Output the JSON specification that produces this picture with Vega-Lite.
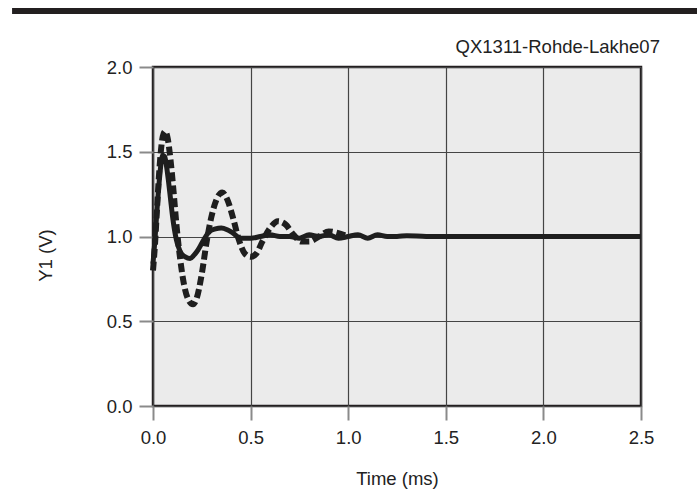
{
  "$schema": "https://vega.github.io/schema/vega-lite/v6.json",
  "width": 488,
  "height": 339,
  "autosize": {"type": "none"},
  "padding": {"left": 153, "top": 67, "right": 56, "bottom": 85},
  "background": "white",
  "config": {
    "font": "Liberation Sans",
    "view": {"fill": "#ebebeb", "stroke": "#231f20", "strokeWidth": 2.5},
    "axis": {
      "labelFont": "Liberation Sans",
      "titleFont": "Liberation Sans",
      "labelFontSize": 18.5,
      "titleFontSize": 18.5,
      "titleFontWeight": "normal",
      "labelColor": "#222222",
      "titleColor": "#222222",
      "labelFlush": false,
      "domain": false,
      "tickColor": "#8a8a8a",
      "tickWidth": 2,
      "tickSize": 14,
      "gridColor": "#444444",
      "gridWidth": 1.2
    }
  },
  "datasets": {
    "curves": [
      {"t": 0, "v": 0.84, "s": "solid"},
      {"t": 0.01, "v": 0.98, "s": "solid"},
      {"t": 0.02, "v": 1.15, "s": "solid"},
      {"t": 0.03, "v": 1.3, "s": "solid"},
      {"t": 0.04, "v": 1.42, "s": "solid"},
      {"t": 0.05, "v": 1.48, "s": "solid"},
      {"t": 0.06, "v": 1.47, "s": "solid"},
      {"t": 0.07, "v": 1.41, "s": "solid"},
      {"t": 0.08, "v": 1.32, "s": "solid"},
      {"t": 0.09, "v": 1.22, "s": "solid"},
      {"t": 0.1, "v": 1.12, "s": "solid"},
      {"t": 0.11, "v": 1.04, "s": "solid"},
      {"t": 0.12, "v": 0.98, "s": "solid"},
      {"t": 0.13, "v": 0.94, "s": "solid"},
      {"t": 0.145, "v": 0.9, "s": "solid"},
      {"t": 0.165, "v": 0.88, "s": "solid"},
      {"t": 0.19, "v": 0.87, "s": "solid"},
      {"t": 0.21, "v": 0.89, "s": "solid"},
      {"t": 0.23, "v": 0.92, "s": "solid"},
      {"t": 0.25, "v": 0.96, "s": "solid"},
      {"t": 0.27, "v": 1.0, "s": "solid"},
      {"t": 0.29, "v": 1.03, "s": "solid"},
      {"t": 0.32, "v": 1.045, "s": "solid"},
      {"t": 0.35, "v": 1.05, "s": "solid"},
      {"t": 0.38, "v": 1.04, "s": "solid"},
      {"t": 0.41, "v": 1.02, "s": "solid"},
      {"t": 0.45, "v": 0.99, "s": "solid"},
      {"t": 0.5, "v": 0.99, "s": "solid"},
      {"t": 0.55, "v": 1.0, "s": "solid"},
      {"t": 0.6, "v": 1.01, "s": "solid"},
      {"t": 0.65, "v": 1.0, "s": "solid"},
      {"t": 0.7, "v": 1.0, "s": "solid"},
      {"t": 0.75, "v": 0.99, "s": "solid"},
      {"t": 0.8, "v": 1.01, "s": "solid"},
      {"t": 0.85, "v": 1.0, "s": "solid"},
      {"t": 0.9, "v": 1.01, "s": "solid"},
      {"t": 0.95, "v": 0.99, "s": "solid"},
      {"t": 1.0, "v": 1.0, "s": "solid"},
      {"t": 1.05, "v": 1.01, "s": "solid"},
      {"t": 1.1, "v": 0.99, "s": "solid"},
      {"t": 1.15, "v": 1.01, "s": "solid"},
      {"t": 1.2, "v": 1.0, "s": "solid"},
      {"t": 1.25, "v": 1.0, "s": "solid"},
      {"t": 1.3, "v": 1.005, "s": "solid"},
      {"t": 1.4, "v": 1.0, "s": "solid"},
      {"t": 1.5, "v": 1.0, "s": "solid"},
      {"t": 1.7, "v": 1.0, "s": "solid"},
      {"t": 1.9, "v": 1.0, "s": "solid"},
      {"t": 2.1, "v": 1.0, "s": "solid"},
      {"t": 2.3, "v": 1.0, "s": "solid"},
      {"t": 2.5, "v": 1.0, "s": "solid"},
      {"t": 0, "v": 0.8, "s": "dashed"},
      {"t": 0.01, "v": 0.95, "s": "dashed"},
      {"t": 0.02, "v": 1.15, "s": "dashed"},
      {"t": 0.03, "v": 1.35, "s": "dashed"},
      {"t": 0.04, "v": 1.5, "s": "dashed"},
      {"t": 0.05, "v": 1.59, "s": "dashed"},
      {"t": 0.062, "v": 1.62, "s": "dashed"},
      {"t": 0.075, "v": 1.58, "s": "dashed"},
      {"t": 0.09, "v": 1.45, "s": "dashed"},
      {"t": 0.105, "v": 1.27, "s": "dashed"},
      {"t": 0.12, "v": 1.07, "s": "dashed"},
      {"t": 0.14, "v": 0.86, "s": "dashed"},
      {"t": 0.16, "v": 0.71, "s": "dashed"},
      {"t": 0.18, "v": 0.63, "s": "dashed"},
      {"t": 0.205, "v": 0.6, "s": "dashed"},
      {"t": 0.225, "v": 0.64, "s": "dashed"},
      {"t": 0.25, "v": 0.78, "s": "dashed"},
      {"t": 0.275, "v": 0.97, "s": "dashed"},
      {"t": 0.3, "v": 1.12, "s": "dashed"},
      {"t": 0.33, "v": 1.23, "s": "dashed"},
      {"t": 0.355, "v": 1.26, "s": "dashed"},
      {"t": 0.38, "v": 1.22, "s": "dashed"},
      {"t": 0.41, "v": 1.11, "s": "dashed"},
      {"t": 0.44, "v": 0.98, "s": "dashed"},
      {"t": 0.47, "v": 0.9, "s": "dashed"},
      {"t": 0.5, "v": 0.88, "s": "dashed"},
      {"t": 0.53, "v": 0.9, "s": "dashed"},
      {"t": 0.56, "v": 0.97, "s": "dashed"},
      {"t": 0.6, "v": 1.05, "s": "dashed"},
      {"t": 0.64, "v": 1.09, "s": "dashed"},
      {"t": 0.68, "v": 1.07, "s": "dashed"},
      {"t": 0.72, "v": 1.01, "s": "dashed"},
      {"t": 0.76, "v": 0.97, "s": "dashed"},
      {"t": 0.8, "v": 0.97, "s": "dashed"},
      {"t": 0.85, "v": 1.0, "s": "dashed"},
      {"t": 0.9, "v": 1.03, "s": "dashed"},
      {"t": 0.95, "v": 1.02, "s": "dashed"},
      {"t": 1.0, "v": 1.0, "s": "dashed"}
    ],
    "bar": [{"x0": -0.722, "x1": 2.787, "y": 2.33}],
    "label": [{"x": 2.597, "y": 2.083, "text": "QX1311-Rohde-Lakhe07"}]
  },
  "layer": [
    {
      "data": {"name": "bar"},
      "mark": {"type": "rule", "color": "#231f20", "strokeWidth": 6, "clip": false},
      "encoding": {
        "x": {"field": "x0", "type": "quantitative", "scale": {"domain": [0, 2.5], "nice": false}},
        "x2": {"field": "x1"},
        "y": {"field": "y", "type": "quantitative", "scale": {"domain": [0, 2], "nice": false}}
      }
    },
    {
      "data": {"name": "label"},
      "mark": {"type": "text", "align": "right", "baseline": "alphabetic", "font": "Liberation Sans", "fontSize": 18.5, "color": "#222222", "clip": false},
      "encoding": {
        "x": {"field": "x", "type": "quantitative"},
        "y": {"field": "y", "type": "quantitative"},
        "text": {"field": "text"}
      }
    },
    {
      "data": {"name": "curves"},
      "transform": [{"filter": "datum.s === 'dashed'"}],
      "mark": {"type": "line", "color": "#1e1e1e", "strokeWidth": 6, "strokeDash": [9, 4], "interpolate": "monotone"},
      "encoding": {
        "x": {"field": "t", "type": "quantitative", "scale": {"domain": [0, 2.5], "nice": false},
          "axis": {"values": [0, 0.5, 1, 1.5, 2, 2.5], "format": ".1f", "title": "Time (ms)", "labelPadding": 8, "titleY": 72, "titleBaseline": "middle"}},
        "y": {"field": "v", "type": "quantitative", "scale": {"domain": [0, 2], "nice": false},
          "axis": {"values": [0, 0.5, 1, 1.5, 2], "format": ".1f", "title": "Y1 (V)", "labelPadding": 7, "titleX": -108, "titleY": 188, "titleBaseline": "middle"}}
      }
    },
    {
      "data": {"name": "curves"},
      "transform": [{"filter": "datum.s === 'solid'"}],
      "mark": {"type": "line", "color": "#1e1e1e", "strokeWidth": 5, "interpolate": "monotone"},
      "encoding": {
        "x": {"field": "t", "type": "quantitative"},
        "y": {"field": "v", "type": "quantitative"}
      }
    }
  ]
}
